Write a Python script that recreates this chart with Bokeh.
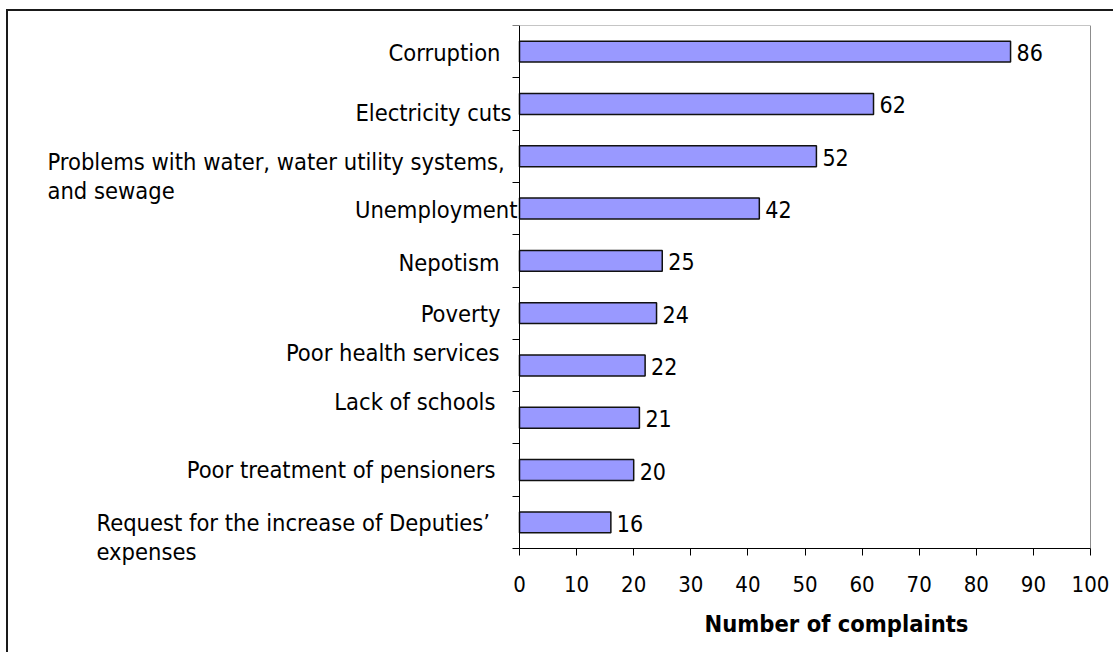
from bokeh.plotting import figure
from bokeh.models import Range1d, FixedTicker, LinearAxis
from bokeh.embed import file_html
from bokeh.resources import INLINE
from bokeh.core.properties import value

# Complaint categories, top to bottom, and their counts
categories = [
    "Corruption",
    "Electricity cuts",
    "Problems with water, water utility systems,\nand sewage",
    "Unemployment",
    "Nepotism",
    "Poverty",
    "Poor health services",
    "Lack of schools",
    "Poor treatment of pensioners",
    "Request for the increase of Deputies\u2019\nexpenses",
]
complaints = [86, 62, 52, 42, 25, 24, 22, 21, 20, 16]
x_ticks = [0, 10, 20, 30, 40, 50, 60, 70, 80, 90, 100]
x_title = "Number of complaints"

FONT = "DejaVu Sans Condensed"
CAT_SIZE = "23.5px"
VAL_SIZE = "23px"
TICK_SIZE = "22px"
BAR_FILL = "#9999FF"

# canvas geometry in px (canvas origin sits 8px right / 11px down of the page corner)
W, H = 1107, 643
AXIS_X = 511      # where the value axis starts (x = 0)
RIGHT_X = 1082    # where x = 100 lands
TOP_Y = 14        # top of the bar area
AXIS_Y = 537      # baseline of the bar area
BASE_SHIFT = -8.5  # text baseline correction

n = len(categories)
centers = [i + 0.5 for i in range(n)]
px_x = (RIGHT_X - AXIS_X) / 100.0
px_y = (AXIS_Y - TOP_Y) / n

p = figure(
    width=W, height=H,
    x_range=Range1d(-AXIS_X / px_x, 100 + (W - RIGHT_X) / px_x),
    y_range=Range1d(n + (H - AXIS_Y) / px_y, 0),
    output_backend="svg", toolbar_location=None,
    x_axis_location=None, y_axis_location=None,
    min_border_left=0, min_border_bottom=0,
    min_border_right=0, min_border_top=TOP_Y,
)
p.margin = (9, 0, 0, 6)
p.styles = {"border-left": "2px solid #1a1a1a", "border-top": "2px solid #1a1a1a"}
p.background_fill_color = "white"
p.border_fill_color = "white"
p.outline_line_color = None
p.xgrid.visible = False
p.ygrid.visible = False

# grey frame on the top and right of the bar area
p.segment(x0=[0, 100], y0=[0, 0], x1=[100, 100], y1=[0, n],
          line_color="#8c8c8c", line_width=1)

p.hbar(y=centers, right=complaints, left=0, height=0.4,
       fill_color=BAR_FILL, line_color="#111111", line_width=1.5)

p.text(x=complaints, y=centers, text=[str(v) for v in complaints],
       x_offset=6, y_offset=9.5 + BASE_SHIFT, text_baseline="alphabetic",
       text_align="left", text_font=value(FONT), text_font_size=VAL_SIZE,
       text_color="black")

# value axis pinned to the bottom of the bars
xa = LinearAxis(fixed_location=n, bounds=(0, 100),
                ticker=FixedTicker(ticks=x_ticks))
xa.axis_line_color = "black"
xa.major_tick_line_color = "black"
xa.major_tick_out = 7
xa.major_tick_in = 0
xa.minor_tick_line_color = None
xa.major_label_text_font = FONT
xa.major_label_text_font_size = TICK_SIZE
xa.major_label_text_color = "black"
xa.major_label_standoff = 20
p.add_layout(xa, "below")

# category axis: ticks between categories, names drawn as text
ya = LinearAxis(fixed_location=0, bounds=(0, n),
                ticker=FixedTicker(ticks=list(range(n + 1))))
ya.major_label_overrides = {i: "" for i in range(n + 1)}
ya.axis_line_color = "black"
ya.major_tick_line_color = "black"
ya.major_tick_out = 7
ya.major_tick_in = 0
ya.minor_tick_line_color = None
p.add_layout(ya, "left")

# per-name placement: (anchor px relative to the axis, baseline shift px)
# wrapped names are left-aligned from their anchor, the rest right-aligned
anchors = {
    0: (-19, 10.3), 1: (-8, 18), 2: (-472, 14.2), 3: (-2, 10), 4: (-20, 10.7),
    5: (-19, 9.4), 6: (-20, -3.6), 7: (-24, -7.5), 8: (-24, 8.6), 9: (-423, 9),
}
LINE_STEP = 28.7
xs, ys, texts, aligns, dxs, dys = [], [], [], [], [], []
for i, (name, yc) in enumerate(zip(categories, centers)):
    ax, dy = anchors[i]
    lines = name.split("\n")
    for k, line in enumerate(lines):
        xs.append(0)
        ys.append(yc)
        texts.append(line)
        aligns.append("left" if len(lines) > 1 else "right")
        dxs.append(ax)
        dys.append(dy + k * LINE_STEP + BASE_SHIFT)

p.text(x=xs, y=ys, text=texts, x_offset=dxs, y_offset=dys, text_align=aligns,
       text_baseline="alphabetic", text_font=value(FONT),
       text_font_size=CAT_SIZE, text_color="black")

# axis title
p.text(x=[0], y=[n], text=[x_title], x_offset=317, y_offset=84 + BASE_SHIFT,
       text_align="center", text_baseline="alphabetic",
       text_font=value(FONT), text_font_size=CAT_SIZE,
       text_font_style="bold", text_color="black")

open("out.html", "w").write(file_html(p, INLINE))
